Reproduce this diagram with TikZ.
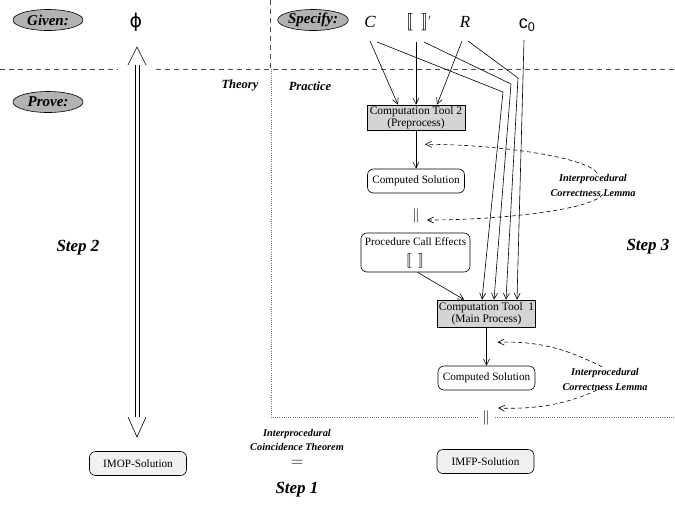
\documentclass[tikz,border=0pt]{standalone}
\usepackage{fontspec}
\setmainfont{Liberation Serif}
\newfontfamily\lsans{Liberation Sans}
\newfontfamily\dvsans{DejaVu Sans}
\usepackage{stmaryrd}
\usetikzlibrary{arrows.meta,calc,shapes.geometric}
\tikzset{
  tag/.style={ellipse, draw, line width=0.6pt, fill=black!30, minimum width=70pt, minimum height=21pt, inner sep=0pt, font=\fontsize{15}{15}\selectfont\bfseries\itshape},
  tool/.style={draw, line width=0.6pt, fill=black!17, minimum width=98pt, minimum height=25pt, inner sep=1pt, align=center, font=\fontsize{11.5}{11.5}\selectfont},
  sol/.style={draw, line width=0.6pt, rounded corners=6pt, minimum width=97pt, minimum height=24pt, inner sep=1pt, align=center, font=\fontsize{11.2}{12}\selectfont},
  res/.style={sol, fill=black!6},
  lemma/.style={align=center, inner sep=1pt, font=\fontsize{10.3}{15}\selectfont\bfseries\itshape},
  theo/.style={font=\fontsize{12.5}{13}\selectfont\bfseries\itshape},
  steplbl/.style={font=\fontsize{17}{17}\selectfont\bfseries\itshape},
  var/.style={font=\fontsize{17}{17}\selectfont, inner sep=1pt},
  eqbar/.style={inner sep=0pt, font=\fontsize{15}{15}\selectfont},
  arr/.style={-{Straight Barb[length=6pt,width=6pt]}, line width=0.6pt},
  darr/.style={arr, dash pattern=on 4pt off 3pt},
  sep/.style={black!70, line width=0.6pt, dash pattern=on 5pt off 4pt},
  dotsep/.style={black!55, line width=0.6pt, dash pattern=on 0.8pt off 1.4pt},
}
\begin{document}
\begin{tikzpicture}[x=1pt,y=-1pt]
\useasboundingbox (0,0) rectangle (675,507);

% separators
\draw[sep] (0,69) -- (118,69);
\draw[sep] (156,69) -- (675,69);
\draw[sep] (270,0) -- (270,69);
\draw[dotsep] (271,69) -- (271,417) -- (478,417);
\draw[dotsep] (495,417) -- (675,417);

% header tags
\node[tag] (given) at (48,20) {Given:};
\node[tag] (prove) at (48,102) {Prove:};
\node[tag] (spec) at (313,20) {Specify:};
\node[inner sep=0pt, font=\fontsize{19}{19}\selectfont\dvsans] (phi) at (136,22) {ϕ};

\node[theo] (theory) at (240,86) {Theory};
\node[theo] (practice) at (310,86) {Practice};

\node[steplbl] (s2) at (78,248) {Step 2};
\node[steplbl] (s3) at (648,247) {Step 3};
\node[steplbl] (s1) at (297,490) {Step 1};

% specification items
\node[var] (C) at (370,22) {\itshape C};
\node[var] (brk) at (419,22) {$\llbracket\;\,\rrbracket^{\scriptscriptstyle\prime}$};
\node[var] (R) at (465,22) {\itshape R};
\node[var, font=\fontsize{18}{18}\selectfont] (c0) at (527,25) {\lsans c\textsubscript{0}};

% boxes
\node[tool] (t2) at (416,117.5) {Computation Tool 2\\(Preprocess)};
\node[sol] (cs1) at (416,181) {Computed Solution};
\node[eqbar] (eq1) at (416,216) {$\|$};
\node[sol, minimum width=109pt, minimum height=39pt] (pce) at (415.5,252.5) {Procedure Call Effects\\[7pt]{\fontsize{15}{15}\selectfont$\llbracket\;\,\rrbracket$}};
\node[tool, minimum height=27pt] (t1) at (486.5,313.5) {Computation Tool\ \ 1\\(Main Process)};
\node[sol] (cs2) at (486.5,378) {Computed Solution};
\node[eqbar] (eq2) at (486,418) {$\|$};
\node[res] (imop) at (138,463.5) {IMOP-Solution};
\node[res] (imfp) at (485.5,461.5) {IMFP-Solution};

% lemma / theorem labels
\node[lemma] (lem1) at (593,185) {Interprocedural\\Correctness Lemma};
\node[lemma] (lem2) at (605,379) {Interprocedural\\Correctness Lemma};
\node[lemma, font=\fontsize{10.3}{14}\selectfont\bfseries\itshape] (ict) at (297,440) {Interprocedural\\Coincidence Theorem};
\node[inner sep=0pt, font=\fontsize{18}{18}\selectfont] (eq3) at (297,463) {$=$};

% big double arrow from phi to IMOP
\coordinate (dtop) at (137,47);
\coordinate (dbot) at (137,437);
\draw[line width=0.6pt] ($(dtop)+(-9,18)$) -- (dtop) -- ($(dtop)+(9,18)$);
\draw[line width=0.6pt] ($(dbot)+(-9,-20)$) -- (dbot) -- ($(dbot)+(9,-20)$);
\draw[line width=0.6pt] ($(dtop)+(-2,18)$) -- ($(dbot)+(-2,-20)$);
\draw[line width=0.6pt] ($(dtop)+(2,18)$) -- ($(dbot)+(2,-20)$);

% specification arrows into tool 2
\draw[arr] ($(C)+(0,19)$) -- ($(t2.north)+(-18,0)$);
\draw[arr] ($(brk)+(-3,20)$) -- ($(t2.north)+(0,0)$);
\draw[arr] ($(R)+(-3,19)$) -- ($(t2.north)+(21,0)$);

% specification arrows into tool 1
\coordinate (k1) at (503,92);
\coordinate (k2) at (511,84);
\coordinate (k3) at (518,78);
\coordinate (e1) at (482,0);
\coordinate (e2) at (494,0);
\coordinate (e3) at (506,0);
\coordinate (e4) at (517,0);
\draw[arr] ($(C)+(7,20)$) -- (k1) -- (t1.north -| e1);
\draw[arr] ($(brk)+(5,20)$) -- (k2) -- (t1.north -| e2);
\draw[arr] ($(R)+(3,19)$) -- (k3) -- (t1.north -| e3);
\draw[arr] ($(c0)+(-3,15)$) -- (t1.north -| e4);

% vertical flow
\draw[arr] (t2) -- (cs1);
\draw[arr] ($(pce.south)+(2,0)$) -- ($(t1.north west)+(27,0)$);
\draw[arr] (t1) -- (cs2);

% lemma arrows
\draw[darr] ($(lem1.north)+(4,0)$) .. controls +(-12,-16) and +(70,0) .. ($(t2.south)+(9,14)$);
\draw[darr] ($(lem1.south)+(10,-3)$) .. controls +(-12,16) and +(70,0) .. ($(eq1)+(11,4)$);
\draw[darr] ($(lem2.north)+(-3,0)$) .. controls +(-25,-12) and +(50,-2) .. ($(t1.south)+(11,15)$);
\draw[darr] ($(lem2.south)+(-2,-4)$) .. controls +(-25,12) and +(50,2) .. ($(eq2)+(12,-10)$);
\end{tikzpicture}
\end{document}
